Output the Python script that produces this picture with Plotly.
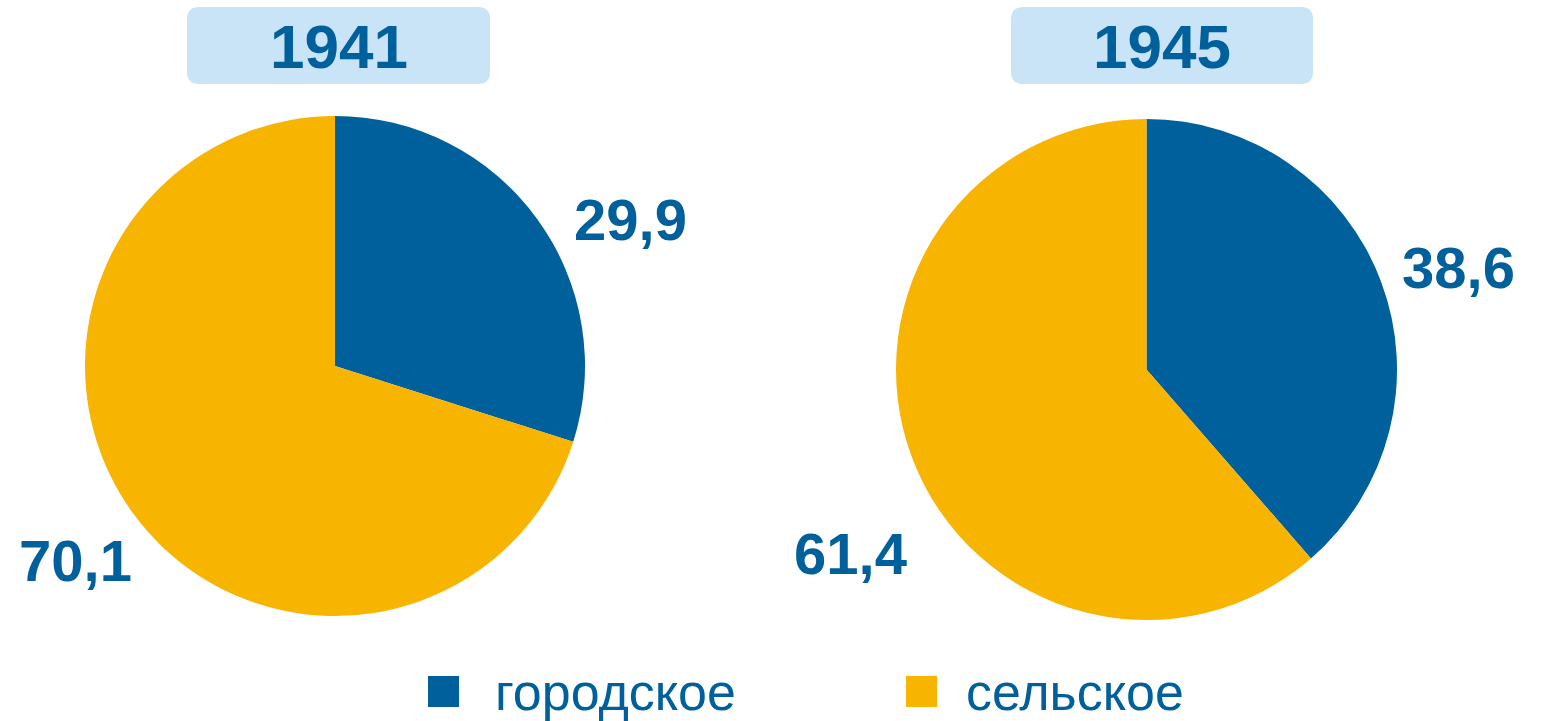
import plotly.graph_objects as go

W, H = 1545, 721

categories = ["городское", "сельское"]
years = ["1941", "1945"]
values_1941 = [29.9, 70.1]
values_1945 = [38.6, 61.4]
colors = ["#00609c", "#f7b400"]
text_color = "#00609c"
box_color = "#c9e3f7"
FONT = "Liberation Sans, Arial, sans-serif"

def px(x):
    return x / W

def py(y):
    return 1 - y / H

def fmt(v):
    return f"{v:.1f}".replace(".", ",")

fig = go.Figure()

# pie geometry (pixel boxes) per year
pie_boxes = [(85, 116, 585, 616), (896, 119, 1397, 620)]
series = [values_1941, values_1945]

for vals, (x0, y0, x1, y1) in zip(series, pie_boxes):
    fig.add_trace(go.Pie(
        labels=categories,
        values=vals,
        marker=dict(colors=colors, line=dict(width=0)),
        sort=False,
        direction="clockwise",
        rotation=0,
        textinfo="none",
        hoverinfo="label+value",
        showlegend=False,
        domain=dict(x=[px(x0), px(x1)], y=[py(y1), py(y0)]),
    ))

# value labels
label_pos = [
    [(630, 220), (75, 560)],
    [(1458, 267), (850, 553)],
]
annotations = []
for vals, poss in zip(series, label_pos):
    for v, (lx, ly) in zip(vals, poss):
        annotations.append(dict(
            x=px(lx), y=py(ly), xref="paper", yref="paper",
            text=f"<b>{fmt(v)}</b>", showarrow=False,
            xanchor="center", yanchor="middle",
            font=dict(family=FONT, size=58, color=text_color),
        ))

# title boxes with year text
title_boxes = [(187, 7, 490, 84), (1011, 7, 1313, 84)]
shapes = []
r = 12
for yr, (bx0, by0, bx1, by1) in zip(years, title_boxes):
    path = (
        f"M {px(bx0 + r)},{py(by0)} L {px(bx1 - r)},{py(by0)} "
        f"Q {px(bx1)},{py(by0)} {px(bx1)},{py(by0 + r)} "
        f"L {px(bx1)},{py(by1 - r)} "
        f"Q {px(bx1)},{py(by1)} {px(bx1 - r)},{py(by1)} "
        f"L {px(bx0 + r)},{py(by1)} "
        f"Q {px(bx0)},{py(by1)} {px(bx0)},{py(by1 - r)} "
        f"L {px(bx0)},{py(by0 + r)} "
        f"Q {px(bx0)},{py(by0)} {px(bx0 + r)},{py(by0)} Z"
    )
    shapes.append(dict(type="path", path=path, xref="paper", yref="paper",
                       fillcolor=box_color, line=dict(width=0), layer="below"))
    annotations.append(dict(
        x=px((bx0 + bx1) / 2), y=py((by0 + by1) / 2 + 1), xref="paper", yref="paper",
        text=f"<b>{yr}</b>", showarrow=False, xanchor="center", yanchor="middle",
        font=dict(family=FONT, size=62, color=text_color),
    ))

# custom legend
legend_items = [(428, 493), (906, 964)]
for cat, col, (sx, tx) in zip(categories, colors, legend_items):
    shapes.append(dict(type="rect", xref="paper", yref="paper",
                       x0=px(sx), x1=px(sx + 31), y0=py(707), y1=py(676),
                       fillcolor=col, line=dict(width=0)))
    annotations.append(dict(
        x=px(tx), y=py(692), xref="paper", yref="paper",
        text=cat, showarrow=False, xanchor="left", yanchor="middle",
        font=dict(family=FONT, size=52, color=text_color),
    ))

fig.update_layout(
    width=W, height=H,
    margin=dict(l=0, r=0, t=0, b=0),
    paper_bgcolor="white", plot_bgcolor="white",
    shapes=shapes, annotations=annotations,
    showlegend=False,
)

fig.write_html(
    "out.html",
    config={"displayModeBar": False},
    post_script="document.body.style.margin='0';document.body.style.overflow='hidden';",
)
